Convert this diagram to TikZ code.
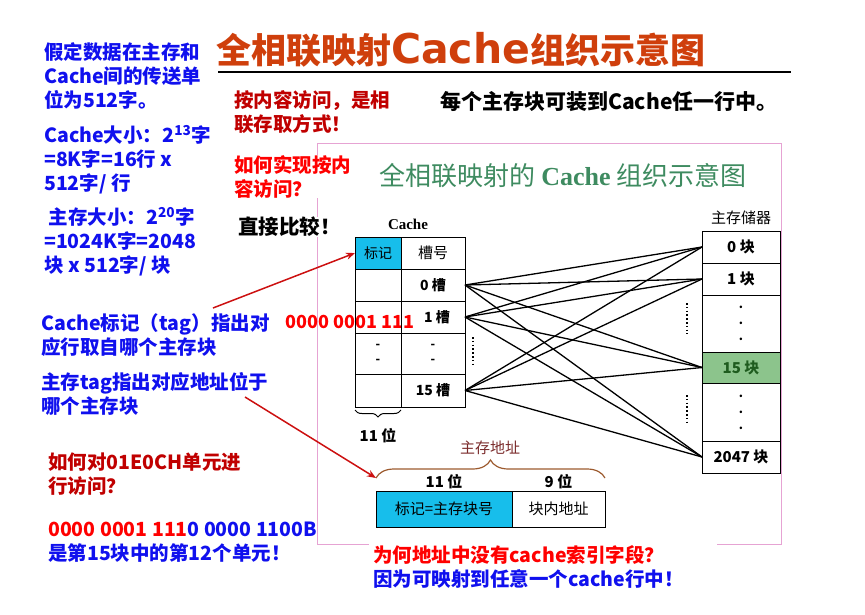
\documentclass[tikz,border=0pt]{standalone}
\usepackage{fontspec}
\setmainfont{Noto Sans CJK SC}
\newfontfamily\serifbf{Liberation Serif}
\newfontfamily\widebf{DejaVu Sans}
\usepackage{tikz}
\usetikzlibrary{arrows.meta,positioning,calc,decorations.pathreplacing}
\definecolor{noteblue}{HTML}{1010EE}
\definecolor{notered}{HTML}{C00000}
\definecolor{brightred}{HTML}{FF0000}
\definecolor{titlered}{HTML}{CF3F0C}
\definecolor{subgreen}{HTML}{3E8B60}
\definecolor{tagcyan}{HTML}{17BEEB}
\definecolor{blockgreen}{HTML}{8CC48C}
\definecolor{blockdark}{HTML}{1F5C1F}
\definecolor{framepink}{HTML}{E6A3D3}
\definecolor{bracebrown}{HTML}{9C5A2E}
\definecolor{addrbrown}{HTML}{7A2A2A}
\definecolor{arrowred}{HTML}{CC1010}

\begin{document}
\begin{tikzpicture}[x=1pt, y=-1pt,
  cell/.style={draw, line width=1pt, inner sep=0pt, outer sep=0pt, align=center, font=\fontsize{14}{15}\selectfont\bfseries},
  tagcell/.style={cell, minimum width=46pt},
  slotcell/.style={cell, minimum width=64pt},
  memcell/.style={cell, minimum width=78pt, font=\fontsize{15}{16}\selectfont\bfseries},
  dotcell/.style={memcell, font=\fontsize{12}{16}\selectfont\bfseries},
  fieldcell/.style={cell, minimum height=36pt, font=\fontsize{15}{16}\selectfont},
  bluetxt/.style={anchor=north west, align=left, inner sep=0pt, text=noteblue, font=\fontsize{19.5}{24}\selectfont\bfseries},
  redtxt/.style={bluetxt, text=notered},
  bitlbl/.style={inner sep=0pt, font=\fontsize{15}{16}\selectfont\bfseries},
  link/.style={line width=1.3pt},
  redarr/.style={-{Stealth[length=9pt,width=7pt]}, line width=1.5pt, arrowred},
  dotline/.style={line width=1.6pt, dash pattern=on 1.6pt off 2.2pt}
]
  \useasboundingbox (0,0) rectangle (865,614);

  % frame of the inner figure
  \draw[framepink, line width=1pt] (317,143) rectangle (781,544);

  % heading
  \node[anchor=west, inner sep=0pt, text=titlered, font=\fontsize{35}{40}\selectfont\bfseries] (title) at (216,50) {全相联映射{\fontsize{41}{44}\selectfont\widebf\bfseries Cache}组织示意图};
  \draw[line width=1.5pt] (218,72) -- (791,72);
  \node[anchor=west, inner sep=0pt, font=\fontsize{21}{24}\selectfont\bfseries] (anyline) at (440,102) {每个主存块可装到Cache任一行中。};
  \node[inner sep=0pt, text=subgreen, font=\fontsize{26}{28}\selectfont] (subtitle) at (563,176) {全相联映射的 {\serifbf\bfseries Cache} 组织示意图};

  % notes on the left
  \node[bluetxt] (assume) at (44,42) {假定数据在主存和\\Cache间的传送单\\位为512字。};
  \node[bluetxt] (csize) at (44,125) {Cache大小：2\textsuperscript{13}字\\=8K字=16行 x\\512字/ 行};
  \node[bluetxt] (msize) at (44,207) {\ 主存大小：2\textsuperscript{20}字\\=1024K字=2048\\块 x 512字/ 块};
  \node[redtxt] (assoc) at (234,90) {按内容访问，是相\\联存取方式！};
  \node[redtxt, text=brightred, fill=white] (howto) at (234,155) {如何实现按内\\容访问？};
  \node[anchor=west, inner sep=0pt, fill=white, font=\fontsize{20.5}{24}\selectfont\bfseries] (compare) at (238,227) {直接比较！};
  \node[bluetxt] (tagnote) at (41,313) {Cache标记（tag）指出对\\应行取自哪个主存块};
  \node[anchor=west, inner sep=0pt, text=brightred, font=\fontsize{18}{22}\selectfont\bfseries] (tagbits) at (285,322) {0000 0001 111};
  \node[bluetxt] (addrnote) at (41,372) {主存tag指出对应地址位于\\哪个主存块};
  \node[redtxt] (access) at (48,453) {如何对01E0CH单元进\\行访问？};
  \node[bluetxt, fill=white] (binary) at (48,522) {\textcolor{brightred}{0000 0001 111}0 0000 1100B\\是第15块中的第12个单元！};
  \node[bluetxt, fill=white, inner xsep=4pt, inner ysep=3pt, text width=340pt] (whynot) at (369,542) {\textcolor{brightred}{为何地址中没有cache索引字段？}\\因为可映射到任意一个cache行中！};

  % cache
  \node[tagcell, minimum height=32pt, fill=tagcyan, font=\fontsize{14}{15}\selectfont] (ctag) at (378,253) {标记};
  \node[slotcell, minimum height=32pt, right=0pt of ctag, font=\fontsize{15}{16}\selectfont] (cslot) {槽号};
  \node[tagcell, minimum height=32pt, below=0pt of ctag] (ct0) {};
  \node[slotcell, minimum height=32pt, right=0pt of ct0] (cs0) {0 槽};
  \node[tagcell, minimum height=32pt, below=0pt of ct0] (ct1) {};
  \node[slotcell, minimum height=32pt, right=0pt of ct1] (cs1) {\hspace{8pt}1 槽};
  \node[tagcell, minimum height=41pt, below=0pt of ct1, font=\fontsize{12}{15}\selectfont\bfseries] (ctd) {-\\-};
  \node[slotcell, minimum height=41pt, right=0pt of ctd, font=\fontsize{12}{15}\selectfont\bfseries] (csd) {-\\-};
  \node[tagcell, minimum height=33pt, below=0pt of ctd] (ct15) {};
  \node[slotcell, minimum height=33pt, right=0pt of ct15] (cs15) {15 槽};
  \node[above=7pt of ctag.north east, xshift=7pt, inner sep=0pt, font=\fontsize{15}{16}\selectfont\serifbf\bfseries] (cachelbl) {Cache};
  \draw[decorate, decoration={brace, mirror, amplitude=7pt}, line width=1pt] ([yshift=-3pt]ct15.south west) -- ([yshift=-3pt]ct15.south east);
  \node[bitlbl, below=21pt of ct15] (cachebits) {11 位};
  \draw[dotline] (473,337) -- (473,366);

  % main memory
  \node[memcell, minimum height=32pt] (m0) at (741,247) {0 块};
  \node[memcell, minimum height=32pt, below=0pt of m0] (m1) {1 块};
  \node[dotcell, minimum height=57pt, below=0pt of m1] (md1) {.\\.\\.};
  \node[memcell, minimum height=31pt, below=0pt of md1, fill=blockgreen, text=blockdark] (m15) {15 块};
  \node[dotcell, minimum height=58pt, below=0pt of m15] (md2) {.\\.\\.};
  \node[memcell, minimum height=32pt, below=0pt of md2] (m2047) {2047 块};
  \node[above=6pt of m0, inner sep=0pt, font=\fontsize{15}{16}\selectfont] (memlbl) {主存储器};
  \draw[dotline] (687,303) -- (687,334);
  \draw[dotline] (687,395) -- (687,424);

  % every slot to every block
  \draw[link] (cs0.east) -- (m0.west);
  \draw[link] (cs0.east) -- (m1.west);
  \draw[link] (cs0.east) -- (m15.west);
  \draw[link] (cs0.east) -- (m2047.west);
  \draw[link] (cs1.east) -- (m0.west);
  \draw[link] (cs1.east) -- (m1.west);
  \draw[link] (cs1.east) -- (m15.west);
  \draw[link] (cs1.east) -- (m2047.west);
  \draw[link] (cs15.east) -- (m0.west);
  \draw[link] (cs15.east) -- (m1.west);
  \draw[link] (cs15.east) -- (m15.west);
  \draw[link] (cs15.east) -- (m2047.west);

  % address format
  \node[fieldcell, minimum width=136pt, fill=tagcyan] (addrtag) at (444,509) {标记=主存块号};
  \node[fieldcell, minimum width=93pt, right=0pt of addrtag] (addroff) {块内地址};
  \node[bitlbl, above=2pt of addrtag] (tagbitslbl) {11 位};
  \node[bitlbl, above=2pt of addroff] (offbitslbl) {9 位};
  \coordinate (braceL) at ([yshift=13pt]addrtag.north west);
  \coordinate (braceR) at ([yshift=13pt]addroff.north east);
  \draw[decorate, decoration={brace, amplitude=18pt}, line width=1.2pt, bracebrown] (braceL) -- (braceR);
  \node[inner sep=0pt, text=addrbrown, font=\fontsize{15}{16}\selectfont] (addrname) at (490,448) {主存地址};

  % pointers from the notes
  \coordinate (tagtail) at (213,308);
  \coordinate (addrtail) at (245,397);
  \draw[redarr] (tagtail) -- (ctag.west);
  \draw[redarr] (addrtail) -- (braceL);
\end{tikzpicture}
\end{document}
